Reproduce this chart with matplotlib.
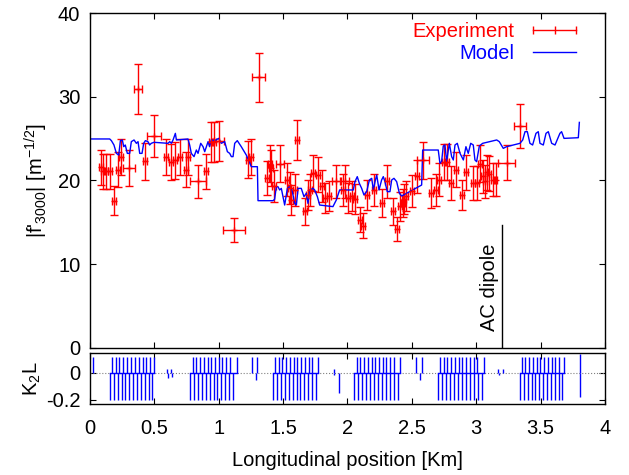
import numpy as np
import matplotlib.pyplot as plt
from matplotlib.lines import Line2D

plt.rcParams['font.family'] = ['Liberation Sans', 'DejaVu Sans']
plt.rcParams['mathtext.fontset'] = 'custom'
plt.rcParams['mathtext.rm'] = 'Liberation Sans'
plt.rcParams['mathtext.it'] = 'Liberation Sans'

# measured |f'3000| along the ring
exp_x = [0.083, 0.100, 0.127, 0.153, 0.186, 0.217, 0.243, 0.303, 0.373, 0.425,
         0.495, 0.588, 0.627, 0.658, 0.697, 0.743, 0.760, 0.839, 0.904, 0.937,
         0.963, 1.000, 1.118, 1.227, 1.253, 1.310, 1.377, 1.395, 1.408, 1.430,
         1.473, 1.532, 1.550, 1.560, 1.590, 1.610, 1.672, 1.693, 1.706, 1.732,
         1.771, 1.800, 1.823, 1.854, 1.913, 1.968, 1.978, 2.006, 2.032, 2.058,
         2.097, 2.118, 2.149, 2.206, 2.266, 2.310, 2.356, 2.387, 2.408, 2.429,
         2.439, 2.454, 2.498, 2.542, 2.589, 2.646, 2.687, 2.713, 2.750, 2.775,
         2.804, 2.843, 2.887, 2.920, 2.977, 3.003, 3.030, 3.055, 3.068, 3.080,
         3.100, 3.127, 3.150, 3.236, 3.340]
exp_y = [21.6, 21.1, 21.1, 21.1, 17.6, 21.3, 22.8, 21.5, 30.9, 22.3,
         25.3, 22.8, 22.2, 22.4, 22.8, 21.3, 22.8, 19.9, 21.1, 24.6,
         24.6, 24.7, 14.1, 22.5, 22.8, 32.3, 20.3, 22.0, 21.5, 19.3,
         22.0, 20.1, 19.1, 17.7, 18.9, 24.8, 16.3, 18.3, 18.9, 20.9,
         20.7, 19.3, 17.9, 18.1, 19.9, 18.9, 19.9, 17.9, 18.1, 17.8,
         15.3, 14.6, 18.3, 18.9, 17.3, 19.9, 16.3, 14.2, 16.9, 17.3,
         17.8, 18.1, 18.7, 20.5, 22.4, 18.5, 18.9, 20.1, 22.2, 22.2,
         19.7, 21.3, 18.3, 21.0, 19.7, 19.7, 22.0, 20.5, 19.9, 21.0,
         20.8, 20.1, 20.1, 22.1, 26.5]
exp_yerr = [2.1, 2.1, 2.1, 2.1, 1.7, 2.1, 2.2, 2.1, 3.0, 2.2,
            2.5, 2.2, 2.2, 2.2, 2.2, 2.1, 2.2, 2.0, 2.1, 2.4,
            2.4, 2.4, 1.4, 2.2, 2.2, 2.9, 2.0, 2.2, 2.1, 1.9,
            2.2, 2.0, 1.9, 1.8, 1.9, 2.4, 1.6, 1.8, 1.9, 2.1,
            2.1, 1.9, 1.8, 1.8, 2.0, 1.9, 2.0, 1.8, 1.8, 1.8,
            1.5, 1.5, 1.8, 1.9, 1.7, 2.0, 1.6, 1.4, 1.7, 1.7,
            1.8, 1.8, 1.9, 2.0, 2.2, 1.8, 1.9, 2.0, 2.2, 2.2,
            2.0, 2.1, 1.8, 2.1, 2.0, 2.0, 2.2, 2.0, 2.0, 2.1,
            2.1, 2.0, 2.0, 2.1, 2.6]
exp_xerr = [0.015, 0.015, 0.015, 0.015, 0.015, 0.015, 0.015, 0.05, 0.03, 0.015,
            0.055, 0.015, 0.015, 0.015, 0.015, 0.015, 0.015, 0.06, 0.015, 0.015,
            0.015, 0.04, 0.085, 0.015, 0.015, 0.048, 0.015, 0.015, 0.015, 0.015,
            0.03, 0.015, 0.015, 0.015, 0.015, 0.015, 0.015, 0.015, 0.015, 0.015,
            0.015, 0.015, 0.015, 0.015, 0.03, 0.015, 0.03, 0.015, 0.015, 0.015,
            0.015, 0.015, 0.015, 0.015, 0.015, 0.015, 0.015, 0.015, 0.015, 0.015,
            0.015, 0.015, 0.015, 0.015, 0.047, 0.015, 0.015, 0.015, 0.015, 0.015,
            0.015, 0.015, 0.015, 0.015, 0.015, 0.015, 0.015, 0.015, 0.015, 0.015,
            0.015, 0.015, 0.015, 0.065, 0.045]

# model curve
model_x = [0.0, 0.153, 0.166, 0.186, 0.205, 0.223, 0.236, 0.251, 0.262, 0.274,
           0.290, 0.308, 0.321, 0.342, 0.360, 0.373, 0.386, 0.404, 0.417, 0.430,
           0.450, 0.463, 0.476, 0.497, 0.606, 0.619, 0.632, 0.645, 0.663, 0.671,
           0.761, 0.774, 0.787, 0.808, 0.826, 0.839, 0.860, 0.878, 0.891, 0.904,
           0.917, 0.929, 0.942, 0.968, 0.999, 1.020, 1.046, 1.067, 1.085, 1.098,
           1.111, 1.124, 1.144, 1.175, 1.214, 1.253, 1.300, 1.305, 1.421, 1.434,
           1.447, 1.460, 1.473, 1.486, 1.512, 1.533, 1.551, 1.569, 1.590, 1.603,
           1.616, 1.641, 1.662, 1.680, 1.693, 1.706, 1.732, 1.745, 1.766, 1.784,
           1.887, 1.913, 1.939, 2.045, 2.058, 2.076, 2.092, 2.110, 2.128, 2.149,
           2.170, 2.188, 2.201, 2.214, 2.227, 2.245, 2.265, 2.278, 2.291, 2.309,
           2.330, 2.343, 2.361, 2.382, 2.403, 2.421, 2.576, 2.584, 2.705, 2.718,
           2.731, 2.744, 2.757, 2.770, 2.791, 2.809, 2.822, 2.835, 2.853, 2.874,
           2.900, 2.920, 2.938, 2.957, 2.977, 2.990, 3.003, 3.024, 3.050, 3.159,
           3.179, 3.210, 3.236, 3.340, 3.361, 3.379, 3.397, 3.417, 3.438, 3.464,
           3.482, 3.495, 3.521, 3.542, 3.560, 3.586, 3.612, 3.650, 3.663, 3.682,
           3.793, 3.801]
model_y = [24.96, 24.96, 24.76, 24.24, 23.24, 23.04, 24.76, 24.84, 24.04, 24.24,
           23.24, 23.24, 24.64, 24.84, 24.44, 24.64, 23.24, 23.24, 24.44, 24.76,
           24.64, 24.24, 24.44, 24.56, 24.44, 24.64, 24.44, 24.84, 25.63, 24.84,
           24.96, 24.24, 23.24, 22.85, 23.64, 23.24, 24.44, 24.04, 23.44, 24.04,
           24.64, 24.04, 24.84, 24.76, 25.03, 24.44, 24.64, 23.44, 23.24, 22.85,
           22.85, 24.44, 24.76, 24.04, 23.04, 21.65, 21.65, 17.59, 17.59, 17.75,
           19.26, 19.26, 18.87, 19.06, 17.07, 19.06, 19.26, 18.87, 17.27, 17.07,
           19.06, 19.06, 18.07, 18.47, 17.27, 18.87, 19.06, 18.87, 18.07, 17.07,
           16.88, 17.67, 18.87, 18.87, 19.86, 20.46, 19.66, 19.06, 18.27, 18.67,
           20.06, 20.26, 18.87, 19.86, 20.66, 18.87, 20.06, 20.46, 19.86, 18.67,
           18.67, 20.06, 20.26, 19.86, 18.47, 18.15, 19.46, 23.64, 23.64, 22.05,
           22.25, 24.12, 24.24, 22.25, 24.44, 22.85, 22.45, 24.24, 24.44, 23.24,
           22.45, 24.04, 23.24, 24.44, 24.24, 22.45, 22.25, 24.12, 24.44, 24.84,
           24.64, 23.84, 24.04, 24.44, 24.84, 25.83, 25.83, 24.44, 24.24, 25.63,
           25.83, 24.44, 24.24, 25.63, 25.83, 24.44, 24.24, 25.63, 25.83, 25.03,
           25.11, 26.94]

# sextupole K2L (focusing kicks up, defocusing kicks down)
k2_up_x = [0.168, 0.198, 0.228, 0.258, 0.288, 0.318, 0.348, 0.378, 0.408, 0.438, 0.468, 0.497,
           0.797, 0.826, 0.855, 0.884, 0.913, 0.942, 0.971, 1.000, 1.029, 1.058, 1.087, 1.139,
           1.437, 1.466, 1.495, 1.524, 1.553, 1.582, 1.611, 1.640, 1.669, 1.698, 1.727, 1.771,
           2.071, 2.100, 2.129, 2.158, 2.187, 2.216, 2.245, 2.274, 2.303, 2.332, 2.361, 2.408,
           2.718, 2.747, 2.776, 2.805, 2.834, 2.863, 2.892, 2.921, 2.950, 2.979, 3.008, 3.060,
           3.353, 3.382, 3.411, 3.440, 3.469, 3.498, 3.527, 3.556, 3.585, 3.614, 3.643, 3.682]
k2_dn_x = [0.155, 0.185, 0.215, 0.245, 0.275, 0.305, 0.335, 0.365, 0.395, 0.425, 0.455, 0.485,
           0.780, 0.810, 0.840, 0.870, 0.900, 0.930, 0.960, 0.990, 1.020, 1.050, 1.080, 1.110,
           1.424, 1.454, 1.484, 1.514, 1.544, 1.574, 1.604, 1.634, 1.664, 1.694, 1.724, 1.755,
           2.053, 2.084, 2.115, 2.146, 2.177, 2.208, 2.239, 2.270, 2.301, 2.332, 2.363, 2.395,
           2.705, 2.736, 2.767, 2.798, 2.829, 2.860, 2.891, 2.922, 2.953, 2.984, 3.015, 3.041,
           3.340, 3.370, 3.400, 3.430, 3.460, 3.490, 3.520, 3.550, 3.580, 3.610, 3.640, 3.663]
k2_up_v = 0.115
k2_dn_v = -0.2
k2_misc_x = [0.023, 0.600, 0.605, 0.630, 0.635, 1.261, 1.286, 1.299,
             1.892, 1.896, 1.931, 2.532, 2.563, 2.576, 3.171, 3.175, 3.211, 3.806, 3.806]
k2_misc_v = [0.115, 0.03, -0.04, 0.03, -0.03, 0.115, -0.05, 0.115,
             0.03, -0.02, -0.15, 0.115, -0.05, 0.115, 0.03, -0.02, 0.03, 0.14, -0.18]
k2_groups = [(0.155, 0.497), (0.780, 1.139), (1.424, 1.771),
             (2.053, 2.408), (2.705, 3.060), (3.340, 3.682)]

fs = 14.5
fig = plt.figure(figsize=(6.29, 4.75), dpi=100)
ax = fig.add_axes([0.1431, 0.2674, 0.8187, 0.7052])
ax2 = fig.add_axes([0.1431, 0.1495, 0.8187, 0.1073])

red = '#ff0000'
blue = '#0000ff'

ax.errorbar(exp_x, exp_y, xerr=exp_xerr, yerr=exp_yerr, fmt='+', color=red,
            ecolor=red, elinewidth=1.0, capsize=3, markersize=4, lw=1.0)
ax.plot(model_x, model_y, color=blue, lw=1.0)

ax.plot([3.197, 3.197], [0, 14.7], color='black', lw=1.0)
ax.text(3.178, 2.0, 'AC dipole', rotation=90, ha='right', va='bottom', fontsize=fs)

h_exp = Line2D([], [], color=red, lw=1.0, marker='|', markersize=6)
h_mod = Line2D([], [], color=blue, lw=1.0)
leg = ax.legend([h_exp, h_mod], ['Experiment', 'Model'], loc='upper right',
                frameon=False, markerfirst=False, numpoints=3, fontsize=fs,
                handlelength=2.7, handletextpad=0.65, labelspacing=0.15,
                borderpad=0, borderaxespad=0, bbox_to_anchor=(0.955, 0.972))
for t, c in zip(leg.get_texts(), [red, blue]):
    t.set_color(c)

ax.set_xlim(0, 4)
ax.set_ylim(0, 40)
ax.set_yticks([0, 10, 20, 30, 40])
ax.set_xticks(np.arange(0, 4.01, 0.5))
ax.set_xticklabels([])
ax.tick_params(direction='in', top=True, right=True, length=4, labelsize=fs, pad=7)
ax.set_ylabel("|f'$_{3000}$| [m$^{-1/2}$]", fontsize=fs, labelpad=6)

ax2.axhline(0, color='gray', lw=0.8, ls=':')
for a, b in k2_groups:
    ax2.plot([a, b], [0, 0], color=blue, lw=1.0)
ax2.vlines(k2_up_x, 0, k2_up_v, color=blue, lw=1.0)
ax2.vlines(k2_dn_x, k2_dn_v, 0, color=blue, lw=1.0)
ax2.vlines(k2_misc_x, 0, k2_misc_v, color=blue, lw=1.0)
ax2.set_xlim(0, 4)
ax2.set_ylim(-0.23, 0.145)
ax2.set_yticks([-0.2, 0])
ax2.set_yticklabels(['-0.2', '0'])
ax2.set_xticks(np.arange(0, 4.01, 0.5))
ax2.set_xticklabels(['0', '0.5', '1', '1.5', '2', '2.5', '3', '3.5', '4'])
ax2.tick_params(direction='in', top=True, right=True, length=4, labelsize=fs, pad=7)
ax2.tick_params(axis='x', pad=11)
ax2.set_ylabel('K$_2$L', fontsize=fs, labelpad=2)
ax2.set_xlabel('Longitudinal position [Km]', fontsize=fs, labelpad=9)

for a in (ax, ax2):
    for s in a.spines.values():
        s.set_linewidth(1.0)

fig.savefig('out.png', dpi=100)
